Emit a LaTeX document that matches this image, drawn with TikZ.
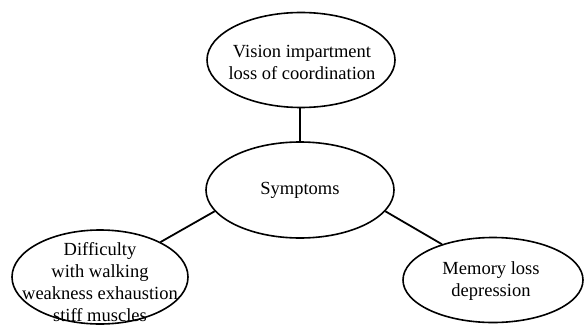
\documentclass[tikz,border=0pt]{standalone}
\usepackage{fontspec}
\setmainfont{Liberation Serif}
\usetikzlibrary{shapes.geometric}
\begin{document}
\begin{tikzpicture}[x=1pt,y=-1pt,
  bubble/.style={draw=black,line width=1.6pt,ellipse,inner sep=0pt,fill=white},
  label/.style={align=center,inner sep=0pt,font=\fontsize{18.5}{22}\selectfont},
  link/.style={draw=black,line width=1.8pt}]
\useasboundingbox[fill=white] (0,0) rectangle (585,326);
\node[bubble,minimum width=188pt,minimum height=95pt] (t) at (301,60) {};
\node[bubble,minimum width=188pt,minimum height=96pt] (c) at (300,190) {};
\node[bubble,minimum width=176pt,minimum height=94pt] (l) at (100,277) {};
\node[bubble,minimum width=180pt,minimum height=85pt] (r) at (493,280) {};
\draw[link] (c.north) -- (c.north |- t.south);
\draw[link] (c.194) -- (l.30);
\draw[link] (c.-14) -- (r.145);
\node[label] (tt) at (302,62) {Vision impartment\\loss of coordination};
\node[label] (ct) at (300,190) {Symptoms};
\node[label] (lt) at (100,282) {Difficulty\\with walking\\weakness exhaustion\\stiff muscles};
\node[label] (rt) at (491,281) {Memory loss\\depression};
\end{tikzpicture}
\end{document}
